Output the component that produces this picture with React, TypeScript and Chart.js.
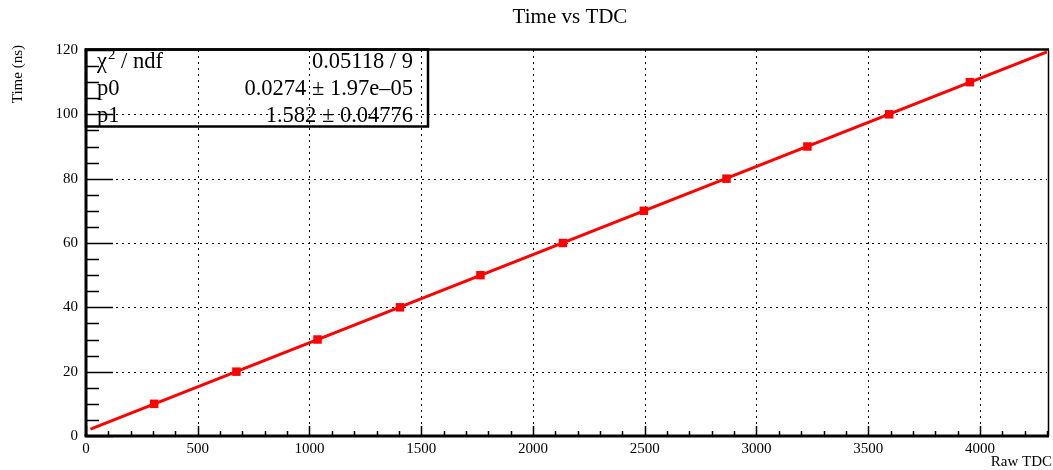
import React, { useEffect, useRef } from 'react';
import { Chart, registerables } from 'chart.js';

Chart.register(...registerables);

// ---- data ----
const rawTdc = [305, 673, 1036, 1405, 1765, 2134, 2496, 2866, 3228, 3594, 3955];
const timeNs = [10, 20, 30, 40, 50, 60, 70, 80, 90, 100, 110];
const fitLineX = [20, 4300];
const fitLineY = [2.13, 119.4];
const xTickValues = [0, 500, 1000, 1500, 2000, 2500, 3000, 3500, 4000];
const yTickValues = [0, 20, 40, 60, 80, 100, 120];
const statLabels = ['χ', 'p0', 'p1'];
const statValues = ['0.05118 / 9', '0.0274 ± 1.97e–05', '1.582 ± 0.04776'];
const chartTitle = 'Time vs TDC';
const xTitle = 'Raw TDC';
const yTitle = 'Time (ns)';
const xRange = [0, 4300];
const yRange = [0, 120];
const xMajorStep = 500;
const xMinorStep = 100;
const yMajorStep = 20;
const yMinorStep = 5;

const SERIF = '"Liberation Serif", "Times New Roman", Times, serif';

const rootPlugin = {
  id: 'rootStyle',
  beforeDatasetsDraw(chart: any) {
    const { ctx, chartArea: a, scales } = chart;
    const x = scales.x, y = scales.y;
    ctx.save();
    ctx.strokeStyle = '#000';
    ctx.lineWidth = 1;
    ctx.setLineDash([2, 4]);
    for (const t of x.ticks) {
      const v = t.value;
      if (v <= xRange[0] || v >= xRange[1]) continue;
      const px = Math.round(x.getPixelForValue(v)) + 0.5;
      ctx.beginPath(); ctx.moveTo(px, a.bottom); ctx.lineTo(px, a.top); ctx.stroke();
    }
    for (const t of y.ticks) {
      const v = t.value;
      if (v <= yRange[0] || v >= yRange[1]) continue;
      const py = Math.round(y.getPixelForValue(v)) + 0.5;
      ctx.beginPath(); ctx.moveTo(a.left, py); ctx.lineTo(a.right, py); ctx.stroke();
    }
    ctx.restore();
  },
  afterDatasetsDraw(chart: any) {
    const { ctx, chartArea: a, scales } = chart;
    const x = scales.x, y = scales.y;
    ctx.save();
    ctx.setLineDash([]);
    ctx.strokeStyle = '#000';
    // ticks
    ctx.lineWidth = 1.5;
    for (let v = xRange[0]; v <= xRange[1] + 1e-9; v += xMinorStep) {
      const px = Math.round(x.getPixelForValue(v)) + 0.5;
      const major = Math.abs(v % xMajorStep) < 1e-9;
      const len = major ? 10 : 5;
      ctx.beginPath(); ctx.moveTo(px, a.bottom); ctx.lineTo(px, a.bottom - len); ctx.stroke();
    }
    for (let v = yRange[0]; v <= yRange[1] + 1e-9; v += yMinorStep) {
      const py = Math.round(y.getPixelForValue(v)) + 0.5;
      const major = Math.abs(v % yMajorStep) < 1e-9;
      const len = major ? 27 : 13;
      ctx.beginPath(); ctx.moveTo(a.left, py); ctx.lineTo(a.left + len, py); ctx.stroke();
    }
    // frame
    ctx.lineWidth = 3;
    ctx.beginPath(); ctx.moveTo(a.left, a.top); ctx.lineTo(a.left, a.bottom); ctx.stroke();
    ctx.beginPath(); ctx.moveTo(a.left - 1.5, a.bottom); ctx.lineTo(a.right + 2, a.bottom); ctx.stroke();
    ctx.lineWidth = 2.5;
    ctx.beginPath(); ctx.moveTo(a.left - 1.5, a.top - 0.5); ctx.lineTo(a.right + 2, a.top - 0.5); ctx.stroke();
    ctx.lineWidth = 1.5;
    ctx.beginPath(); ctx.moveTo(a.right + 1.5, a.top); ctx.lineTo(a.right + 1.5, a.bottom); ctx.stroke();

    // stats box
    const bx = a.left, by = a.top - 0.5, bw = 342, bh = 77;
    ctx.lineWidth = 2.5;
    ctx.strokeRect(bx, by, bw, bh);
    ctx.fillStyle = '#000';
    ctx.textBaseline = 'middle';
    const rowY = [by + 12.5, by + 39.5, by + 66.5];
    const leftX = 97, rightX = 413;
    const big = `22.5px ${SERIF}`;
    for (let i = 0; i < statLabels.length; i++) {
      ctx.font = big;
      ctx.textAlign = 'left';
      if (i === 0) {
        ctx.fillText(statLabels[0], leftX, rowY[0]);
        const w = ctx.measureText(statLabels[0]).width;
        ctx.font = `15px ${SERIF}`;
        ctx.fillText('2', leftX + w + 1, rowY[0] - 7);
        const w2 = ctx.measureText('2').width;
        ctx.font = big;
        ctx.fillText(' / ndf', leftX + w + w2 + 1, rowY[0]);
      } else {
        ctx.fillText(statLabels[i], leftX, rowY[i]);
      }
      ctx.textAlign = 'right';
      ctx.fillText(statValues[i], rightX, rowY[i]);
    }

    // titles
    ctx.font = `21px ${SERIF}`;
    ctx.textAlign = 'center';
    ctx.textBaseline = 'middle';
    ctx.fillText(chartTitle, 570, 17);

    ctx.font = `15px ${SERIF}`;
    ctx.textAlign = 'right';
    ctx.fillText(xTitle, 1052, 462);

    ctx.save();
    ctx.translate(18, 45);
    ctx.rotate(-Math.PI / 2);
    ctx.textAlign = 'right';
    ctx.textBaseline = 'middle';
    ctx.fillText(yTitle, 0, 0);
    ctx.restore();

    ctx.restore();
  },
};

export default function App() {
  const ref = useRef<HTMLCanvasElement>(null);
  useEffect(() => {
    document.body.style.margin = '0';
    const canvas = ref.current;
    if (!canvas) return;
    const points = rawTdc.map((v, i) => ({ x: v, y: timeNs[i] }));
    const fit = fitLineX.map((v, i) => ({ x: v, y: fitLineY[i] }));
    const chart = new Chart(canvas, {
      type: 'scatter',
      data: {
        datasets: [
          {
            label: 'data',
            data: points,
            showLine: false,
            pointStyle: 'rect',
            pointRadius: 6,
            pointBorderWidth: 0,
            pointBackgroundColor: '#ff0000',
            pointBorderColor: '#ff0000',
          },
          {
            label: 'fit',
            data: fit,
            showLine: true,
            borderColor: '#ff0000',
            borderWidth: 3,
            pointRadius: 0,
            fill: false,
          },
        ],
      },
      options: {
        responsive: false,
        animation: false,
        devicePixelRatio: 1,
        layout: { padding: { top: 50, right: 3, left: 0, bottom: 0 } },
        plugins: {
          legend: { display: false },
          tooltip: { enabled: false },
          title: { display: false },
        },
        scales: {
          x: {
            type: 'linear',
            min: xRange[0],
            max: xRange[1],
            grid: { display: false, drawTicks: false },
            border: { display: false },
            afterBuildTicks: (s: any) => { s.ticks = xTickValues.map((v) => ({ value: v })); },
            ticks: {
              autoSkip: false,
              maxRotation: 0,
              padding: 4,
              color: '#000',
              font: { family: SERIF, size: 15 },
              callback: (v: any) => String(v),
            },
            afterFit: (s: any) => { s.height = 34; },
          },
          y: {
            type: 'linear',
            min: yRange[0],
            max: yRange[1],
            grid: { display: false, drawTicks: false },
            border: { display: false },
            afterBuildTicks: (s: any) => { s.ticks = yTickValues.map((v) => ({ value: v })); },
            ticks: {
              autoSkip: false,
              padding: 8,
              color: '#000',
              font: { family: SERIF, size: 15 },
              callback: (v: any) => String(v),
            },
            afterFit: (s: any) => { s.width = 86; },
          },
        },
      },
      plugins: [rootPlugin],
    });
    return () => chart.destroy();
  }, []);
  return (
    <canvas
      ref={ref}
      width={1053}
      height={470}
      style={{ display: 'block', width: '1053px', height: '470px' }}
    />
  );
}
